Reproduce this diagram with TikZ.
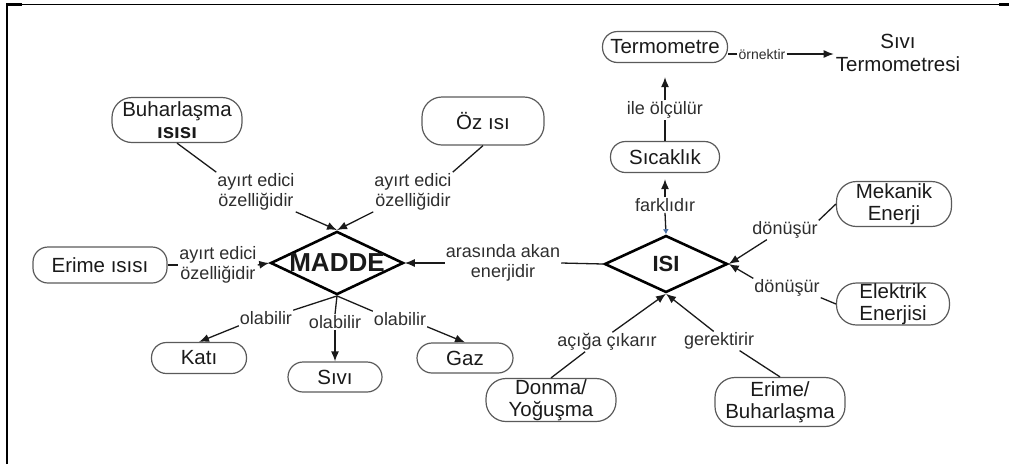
\documentclass[tikz,border=0pt]{standalone}
\usepackage{fontspec}
\setmainfont{Liberation Sans}
\usetikzlibrary{shapes.geometric,arrows.meta}
\definecolor{ink}{HTML}{1A1A1A}
\definecolor{lbl}{HTML}{2E2E2E}
\definecolor{edge}{HTML}{5A5A5A}
\definecolor{tipblue}{HTML}{4A6FA5}
\begin{document}
\begin{tikzpicture}[x=1pt,y=-1pt,
  concept/.style={rectangle, rounded corners=15pt, draw=edge, line width=1.2pt,
    text=ink, font=\fontsize{20.5}{22}\selectfont, align=center, inner sep=0pt},
  tallconcept/.style={concept, rounded corners=20pt},
  plain/.style={text=ink, font=\fontsize{20.5}{22.5}\selectfont, align=center, inner sep=2pt},
  hub/.style={diamond, draw=black, line width=2.6pt, text=ink,
    font=\fontsize{26}{28}\selectfont\bfseries, inner sep=0pt},
  link/.style={text=lbl, font=\fontsize{18}{20.5}\selectfont, align=center, inner sep=1pt},
  smalllink/.style={link, font=\fontsize{14}{16}\selectfont},
  conn/.style={draw=ink, line width=1.3pt},
  arr/.style={conn, -{Latex[length=10pt,width=8pt]}},
  bluetip/.style={conn, -{Latex[length=5pt,width=6pt,color=tipblue]}},
]
\useasboundingbox (0,0) rectangle (1009,464);

% page frame
\draw[line width=1.6pt] (7,464) -- (7,4.5) -- (999,4.5);
\draw[line width=2.8pt] (6,4.5) -- (22,4.5);
\draw[line width=2.8pt] (999,4.5) -- (1009,4.5);

% central concepts
\node[hub, aspect=2.1, minimum width=130pt, minimum height=62pt] (madde) at (337,263) {MADDE};
\node[hub, aspect=2.15, minimum width=123pt, minimum height=57pt,
      font=\fontsize{22}{24}\selectfont\bfseries] (isi) at (666,264) {ISI};

% concepts around MADDE
\node[tallconcept, minimum width=130pt, minimum height=45pt] (buh) at (177,120) {Buharlaşma\\\textbf{ısısı}};
\node[tallconcept, minimum width=122pt, minimum height=48pt] (oz) at (483,121) {Öz ısı};
\node[concept, minimum width=134pt, minimum height=36pt] (eri) at (100,265) {Erime ısısı};
\node[concept, minimum width=95pt, minimum height=31pt] (kati) at (199,358) {Katı};
\node[concept, minimum width=94pt, minimum height=30pt] (sivi) at (335,377) {Sıvı};
\node[concept, minimum width=96pt, minimum height=30pt] (gaz) at (465,358) {Gaz};

% concepts around ISI
\node[concept, minimum width=125pt, minimum height=31pt] (term) at (665,47) {Termometre};
\node[concept, minimum width=109pt, minimum height=31pt] (sic) at (665,157) {Sıcaklık};
\node[plain] (stm) at (898,53) {Sıvı\\Termometresi};
\node[tallconcept, minimum width=115pt, minimum height=45pt] (mek) at (894,204) {Mekanik\\Enerji};
\node[tallconcept, minimum width=113pt, minimum height=42pt] (ele) at (893,304) {Elektrik\\Enerjisi};
\node[tallconcept, minimum width=130pt, minimum height=43pt] (don) at (551,400) {Donma/\\Yoğuşma};
\node[tallconcept, minimum width=130pt, minimum height=49pt] (erb) at (780,402) {Erime/\\Buharlaşma};

% linking phrases
\node[link] (l1) at (256,192) {ayırt edici\\özelliğidir};
\node[link] (l2) at (413,192) {ayırt edici\\özelliğidir};
\node[link] (l3) at (218,265) {ayırt edici\\özelliğidir};
\node[link] (l4) at (266,318) {olabilir};
\node[link] (l5) at (335,322) {olabilir};
\node[link] (l6) at (400,319) {olabilir};
\node[link] (l7) at (503,263) {arasında akan\\enerjidir};
\node[link] (l8) at (665,205) {farklıdır};
\node[link] (l9) at (665,110) {ile ölçülür};
\node[smalllink] (l10) at (762,54) {örnektir};
\node[link] (l11) at (785,230) {dönüşür};
\node[link] (l12) at (787,288) {dönüşür};
\node[link] (l13) at (607,342) {açığa çıkarır};
\node[link] (l14) at (719,341) {gerektirir};

% MADDE links
\draw[conn] (buh.south) -- (l1.north west);
\draw[arr] (l1.south east) -- (madde.north);
\draw[conn] (oz.south) -- (l2.north east);
\draw[arr] (l2.south west) -- (madde.north);
\draw[conn] (eri.east) -- (l3.west);
\draw[arr] (l3.east) -- (madde.west);
\draw[conn] (madde.south) -- (l4.north east);
\draw[arr] (l4.south west) -- (kati.north);
\draw[conn] (madde.south) -- (l5.north);
\draw[arr] (l5.south) -- (sivi.north);
\draw[conn] (madde.south) -- (l6.north west);
\draw[arr] (l6.south east) -- (gaz.north);

% ISI links
\draw[conn] (isi.west) -- (l7.east);
\draw[arr] (l7.west) -- (madde.east);
\draw[bluetip] (l8.south) -- (isi.north);
\draw[arr, shorten >=6pt] (l8.north) -- (sic.south);
\draw[conn] (sic.north) -- (l9.south);
\draw[arr, shorten >=14pt] (l9.north) -- (term.south);
\draw[conn] (l10.west) -- (l10.west -| term.east);
\draw[arr] (l10.east) -- (l10.east -| stm.west);
\draw[conn] (mek.west) -- (l11.north east);
\draw[arr] (l11.208) -- (isi.east);
\draw[conn] (ele.west) -- (l12.south east);
\draw[arr] (l12.north west) -- (isi.east);
\draw[conn] (don.north) -- (l13.204);
\draw[arr] (l13.61) -- (isi.south);
\draw[conn] (erb.north) -- (l14.335);
\draw[arr] (l14.119) -- (isi.south);
\end{tikzpicture}
\end{document}
